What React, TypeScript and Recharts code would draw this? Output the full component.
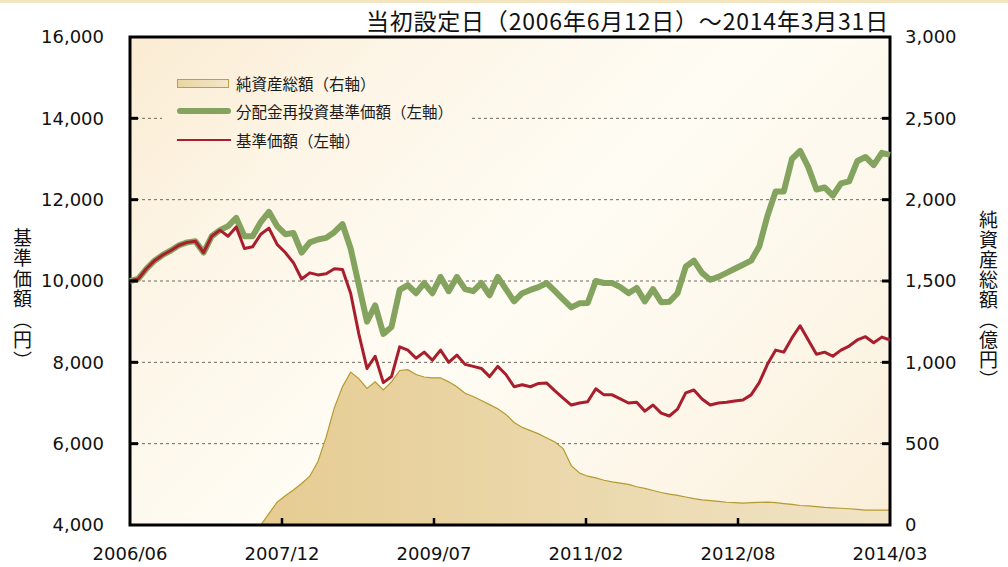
import React from "react";
import {
  ComposedChart,
  Area,
  Line,
  XAxis,
  YAxis,
  CartesianGrid,
  ReferenceArea,
  Legend,
} from "recharts";

// monthly points, index 0 = 2006/06 ... 93 = 2014/03
const navValues = [
  10000, 10050, 10300, 10500, 10640, 10750, 10880, 10950, 10980, 10700,
  11100, 11250, 11100, 11330, 10800, 10840, 11150, 11300, 10900, 10700,
  10450, 10050, 10200, 10150, 10180, 10300, 10280, 9700, 8700, 7850,
  8150, 7500, 7650, 8380, 8300, 8100, 8250, 8050, 8300, 8000,
  8180, 7950, 7900, 7850, 7650, 7900, 7700, 7400, 7450, 7400,
  7480, 7490, 7300, 7120, 6950, 7000, 7030, 7350, 7200, 7200,
  7100, 7000, 7020, 6800, 6950, 6750, 6680, 6850, 7250, 7320,
  7100, 6950, 7000, 7020, 7050, 7075, 7200, 7500, 7950, 8300,
  8250, 8600, 8900, 8550, 8200, 8250, 8150, 8300, 8400, 8550,
  8630, 8480, 8620, 8550,
];

const reinvestValues = [
  10000, 10050, 10300, 10500, 10640, 10750, 10880, 10950, 10980, 10700,
  11100, 11250, 11350, 11550, 11100, 11100, 11450, 11700, 11350, 11150,
  11180, 10700, 10950, 11020, 11060, 11200, 11400, 10800, 9900, 9000,
  9400, 8700, 8870, 9780, 9900, 9700, 9950, 9700, 10100, 9750,
  10100, 9800, 9750, 9950, 9650, 10100, 9800, 9500, 9700, 9780,
  9850, 9950, 9750, 9550, 9350, 9450, 9460, 10000, 9950, 9950,
  9850, 9700, 9830, 9500, 9800, 9480, 9490, 9700, 10350, 10500,
  10200, 10030, 10100, 10200, 10300, 10400, 10500, 10850, 11600, 12200,
  12200, 13000, 13200, 12800, 12250, 12300, 12100, 12400, 12450, 12950,
  13050, 12850, 13150, 13100,
];

// 純資産総額 (億円)
const assetValues: (number | null)[] = [
  null, null, null, null, null, null, null, null, null, null,
  null, null, null, null, null, null, 0, 70, 140, 180,
  215, 255, 300, 390, 540, 720, 850, 940, 900, 840,
  880, 830, 880, 950, 955, 925, 910, 905, 905, 880,
  850, 810, 790, 765, 740, 715, 680, 630, 600, 580,
  560, 535, 510, 470, 365, 320, 300, 290, 275, 265,
  258, 250, 235, 225, 212, 200, 190, 182, 172, 162,
  155, 150, 145, 140, 137, 135, 137, 139, 141, 137,
  132, 127, 120, 117, 113, 108, 105, 103, 100, 96,
  92, 92, 91, 91,
];

const xTickPos = [0, 18.6, 37.2, 55.8, 74.4, 93];
const xTickLabels = ["2006/06", "2007/12", "2009/07", "2011/02", "2012/08", "2014/03"];
const leftTicks = [4000, 6000, 8000, 10000, 12000, 14000, 16000];
const rightTicks = [0, 500, 1000, 1500, 2000, 2500, 3000];

const data = navValues.map((v, i) => ({
  m: i,
  nav: v,
  reinvest: reinvestValues[i],
  assets: assetValues[i],
}));

const W = 1008;
const H = 567;
const PL = 130;
const PR = 890;
const PT = 37;
const PB = 525;

const NUM_FONT = "'DejaVu Sans', Verdana, sans-serif";
const JP_FONT = "'Noto Sans CJK JP', sans-serif";
const PLOT_BG =
  "linear-gradient(135deg, #fbecd3 0%, #fdf6e8 25%, #fffcf4 50%, #fdf7ea 75%, #faeed8 100%)";

const fmt = (v: number) => v.toLocaleString("en-US");

const LeftTick = (props: any) => {
  const { y, payload } = props;
  const v = payload.value;
  return (
    <g>
      <text x={PL - 26} y={y} dy="0.36em" textAnchor="end" fontSize={18} fontFamily={NUM_FONT} fill="#111">
        {fmt(v)}
      </text>
      {v > 4000 && v < 16000 && (
        <line x1={PL} x2={PL + 8} y1={y} y2={y} stroke="#000" strokeWidth={3} />
      )}
    </g>
  );
};

const RightTick = (props: any) => {
  const { y, payload } = props;
  const v = payload.value;
  return (
    <g>
      <text x={PR + 15} y={y} dy="0.36em" textAnchor="start" fontSize={18} fontFamily={NUM_FONT} fill="#111">
        {fmt(v)}
      </text>
      {v > 0 && v < 3000 && (
        <line x1={PR - 8} x2={PR} y1={y} y2={y} stroke="#000" strokeWidth={3} />
      )}
    </g>
  );
};

const BottomTick = (props: any) => {
  const { x, payload, index } = props;
  const i = typeof index === "number" ? index : xTickPos.indexOf(payload.value);
  return (
    <g>
      <text x={x} y={560} textAnchor="middle" fontSize={18} fontFamily={NUM_FONT} fill="#111">
        {xTickLabels[i]}
      </text>
      {i > 0 && i < xTickPos.length - 1 && (
        <line x1={x} x2={x} y1={PB} y2={PB - 7} stroke="#000" strokeWidth={2.5} />
      )}
    </g>
  );
};

const LEG_L = 162;
const LEG_T = 64;

const LegendBox = () => {
  const row = (top: number, sample: React.ReactNode, label: string) => (
    <div style={{ position: "absolute", left: 0, top, height: 24, width: 320 }}>
      <div style={{ position: "absolute", left: 15, top: 0, width: 56, height: 24, display: "flex", alignItems: "center" }}>
        {sample}
      </div>
      <div style={{ position: "absolute", left: 74, top: 0, lineHeight: "24px", fontSize: 15.5, fontFamily: JP_FONT, color: "#1a1a1a", whiteSpace: "nowrap" }}>
        {label}
      </div>
    </div>
  );
  return (
    <div
      style={{
        position: "relative",
        width: 310,
        height: 92,
        backgroundImage: PLOT_BG,
        backgroundSize: `${PR - PL}px ${PB - PT}px`,
        backgroundPosition: `${PL - LEG_L}px ${PT - LEG_T}px`,
      }}
    >
      {row(
        7,
        <div style={{ width: 52, height: 9, boxSizing: "border-box", border: "1px solid #bf9f3c", background: "linear-gradient(90deg,#ead6a2,#f3e7c9)" }} />,
        "純資産総額（右軸）"
      )}
      {row(35, <div style={{ width: 54, height: 6, borderRadius: 3, background: "#84a35e" }} />, "分配金再投資基準価額（左軸）")}
      {row(64, <div style={{ width: 54, height: 2.5, background: "#a81e2d" }} />, "基準価額（左軸）")}
    </div>
  );
};

export default function App() {
  return (
    <div style={{ position: "absolute", left: 0, top: 0, width: W, height: H, background: "#fff", overflow: "hidden" }}>
      <div style={{ position: "absolute", left: 0, top: 0, width: W, height: 3, background: "#f3e5bf" }} />
      <div style={{ position: "absolute", left: PL, top: PT, width: PR - PL, height: PB - PT, backgroundImage: PLOT_BG }} />
      <div
        style={{
          position: "absolute",
          right: W - PR + 1,
          top: 3,
          fontFamily: JP_FONT,
          fontSize: 23,
          color: "#111",
          whiteSpace: "nowrap",
          letterSpacing: 0.8,
        }}
      >
        当初設定日（2006年6月12日）～2014年3月31日
      </div>
      <div
        style={{
          position: "absolute",
          left: 9,
          top: 228,
          writingMode: "vertical-rl",
          fontFamily: JP_FONT,
          fontSize: 19,
          letterSpacing: 1.5,
          color: "#111",
        }}
      >
        基準価額（円）
      </div>
      <div
        style={{
          position: "absolute",
          left: 975,
          top: 210,
          writingMode: "vertical-rl",
          fontFamily: JP_FONT,
          fontSize: 19,
          letterSpacing: 1,
          color: "#111",
        }}
      >
        純資産総額（億円）
      </div>
      <div style={{ position: "absolute", left: 0, top: 0 }}>
        <ComposedChart width={W} height={H} data={data} margin={{ top: PT, right: 0, bottom: 0, left: 0 }}>
          <defs>
            <linearGradient id="assetFill" x1="0" y1="0" x2="1" y2="0">
              <stop offset="0%" stopColor="#e6cc92" />
              <stop offset="100%" stopColor="#f0e4c6" />
            </linearGradient>
          </defs>
          <CartesianGrid yAxisId="left" vertical={false} stroke="#6f6a60" strokeDasharray="3 3" strokeWidth={1} />
          <XAxis
            type="number"
            dataKey="m"
            domain={[0, 93]}
            ticks={xTickPos}
            interval={0}
            height={H - PB}
            axisLine={false}
            tickLine={false}
            tick={<BottomTick />}
          />
          <YAxis
            yAxisId="left"
            domain={[4000, 16000]}
            ticks={leftTicks}
            interval={0}
            width={PL}
            axisLine={false}
            tickLine={false}
            tick={<LeftTick />}
          />
          <YAxis
            yAxisId="right"
            orientation="right"
            domain={[0, 3000]}
            ticks={rightTicks}
            interval={0}
            width={W - PR}
            axisLine={false}
            tickLine={false}
            tick={<RightTick />}
          />
          <Area
            yAxisId="right"
            type="linear"
            dataKey="assets"
            stroke="#b39a30"
            strokeWidth={1.2}
            fill="url(#assetFill)"
            fillOpacity={1}
            isAnimationActive={false}
          />
          <Line
            yAxisId="left"
            type="linear"
            dataKey="reinvest"
            stroke="#84a35e"
            strokeWidth={6}
            strokeLinejoin="round"
            dot={false}
            isAnimationActive={false}
          />
          <Line
            yAxisId="left"
            type="linear"
            dataKey="nav"
            stroke="#a81e2d"
            strokeWidth={3}
            strokeLinejoin="round"
            dot={false}
            isAnimationActive={false}
          />
          <ReferenceArea
            yAxisId="left"
            x1={0}
            x2={93}
            y1={4000}
            y2={16000}
            fill="none"
            stroke="#000"
            strokeWidth={3}
            ifOverflow="visible"
          />
          <Legend
            layout="vertical"
            align="center"
            verticalAlign="middle"
            content={() => <LegendBox />}
            wrapperStyle={{ position: "absolute", left: LEG_L, top: LEG_T, width: 310, height: 92 }}
          />
        </ComposedChart>
      </div>
    </div>
  );
}
